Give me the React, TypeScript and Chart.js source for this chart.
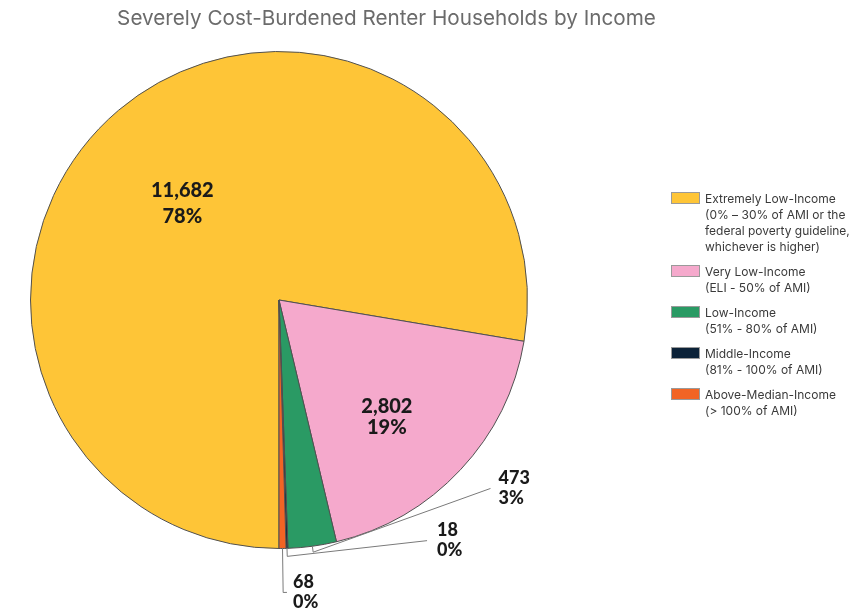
import React, { useEffect, useRef } from "react";
import { Chart, registerables } from "chart.js";

Chart.register(...registerables);

// ---- data ----
const TITLE = "Severely Cost-Burdened Renter Households by Income";
const categories = [
  "Extremely Low-Income",
  "Very Low-Income",
  "Low-Income",
  "Middle-Income",
  "Above-Median-Income",
];
const categoryNotes = [
  ["(0% \u2013 30% of AMI or the", "federal poverty guideline,", "whichever is higher)"],
  ["(ELI - 50% of AMI)"],
  ["(51% - 80% of AMI)"],
  ["(81% - 100% of AMI)"],
  ["(> 100% of AMI)"],
];
const households = [11682, 2802, 473, 18, 68];
const colors = ["#FEC537", "#F5A9CC", "#2A9A64", "#0C2238", "#F26424"];

// ---- label placement (styles/positions, not data) ----
const insidePlacement: Record<number, { shift: number; rf: number; gap: number }> = {
  0: { shift: -4.8, rf: 0.55, gap: 26 },
  1: { shift: 4.2, rf: 0.64, gap: 21.5 },
};
const outsidePlacement: Record<number, { elbow: number; angle: number; rf: number; dx: number }> = {
  2: { elbow: 6, angle: 41.7, rf: 1.14, dx: 8 },
  3: { elbow: 8, angle: 58.4, rf: 1.137, dx: 10 },
  4: { elbow: 44, angle: 88.44, rf: 1.177, dx: 6 },
};

const TEXT_DARK = "#1a1a1a";

const decorPlugin = {
  id: "decor",
  afterDatasetsDraw(chart: any) {
    const ctx: CanvasRenderingContext2D = chart.ctx;
    const meta = chart.getDatasetMeta(0);
    const total = households.reduce((a, b) => a + b, 0);
    ctx.save();
    meta.data.forEach((arc: any, i: number) => {
      const { x, y, startAngle, endAngle, outerRadius } = arc.getProps(
        ["x", "y", "startAngle", "endAngle", "outerRadius"],
        true
      );
      const mid = (startAngle + endAngle) / 2;
      const lines = [
        households[i].toLocaleString("en-US"),
        Math.round((households[i] / total) * 100) + "%",
      ];
      ctx.fillStyle = TEXT_DARK;
      if (insidePlacement[i]) {
        const p = insidePlacement[i];
        const a = mid + (p.shift * Math.PI) / 180;
        const cx = x + Math.cos(a) * outerRadius * p.rf;
        const cy = y + Math.sin(a) * outerRadius * p.rf;
        ctx.font = "900 20px Lato";
        ctx.textAlign = "center";
        ctx.textBaseline = "middle";
        ctx.fillText(lines[0], cx, cy - p.gap / 2);
        ctx.fillText(lines[1], cx, cy + p.gap / 2);
      } else if (outsidePlacement[i]) {
        const p = outsidePlacement[i];
        const ex = x + Math.cos(mid) * outerRadius;
        const ey = y + Math.sin(mid) * outerRadius;
        const bx = x + Math.cos(mid) * (outerRadius + p.elbow);
        const by = y + Math.sin(mid) * (outerRadius + p.elbow);
        const aa = (p.angle * Math.PI) / 180;
        const ax = x + Math.cos(aa) * outerRadius * p.rf;
        const ay = y + Math.sin(aa) * outerRadius * p.rf;
        ctx.strokeStyle = "#7a7a7a";
        ctx.lineWidth = 1;
        ctx.beginPath();
        ctx.moveTo(ex, ey);
        ctx.lineTo(bx, by);
        ctx.lineTo(ax, ay);
        ctx.stroke();
        ctx.font = "900 18px Lato";
        ctx.textAlign = "left";
        ctx.textBaseline = "middle";
        ctx.fillText(lines[0], ax + p.dx, ay - 10);
        ctx.fillText(lines[1], ax + p.dx, ay + 10);
      }
    });

    // title
    ctx.font = "20.7px Inter";
    ctx.fillStyle = "#6b6b6b";
    ctx.textAlign = "center";
    ctx.textBaseline = "alphabetic";
    ctx.fillText(TITLE, 386.5, 25);

    // legend
    let top = 192;
    categories.forEach((name, i) => {
      const textLines = [name, ...categoryNotes[i]];
      ctx.fillStyle = colors[i];
      ctx.fillRect(671, top, 29, 12);
      ctx.strokeStyle = "#9a9a9a";
      ctx.lineWidth = 1;
      ctx.strokeRect(671.5, top + 0.5, 28, 11);
      ctx.fillStyle = "#3a3a3a";
      ctx.font = "12px Inter";
      ctx.textAlign = "left";
      ctx.textBaseline = "alphabetic";
      textLines.forEach((t, k) => {
        ctx.fillText(t, 705, top + 11 + k * 16);
      });
      top += textLines.length * 16 + 9;
    });
    ctx.restore();
  },
};

export default function App() {
  const ref = useRef<HTMLCanvasElement | null>(null);
  useEffect(() => {
    if (!ref.current) return;
    const chart = new Chart(ref.current, {
      type: "pie",
      data: {
        labels: categories,
        datasets: [
          {
            data: households,
            backgroundColor: colors,
            borderColor: "#505050",
            borderWidth: 1,
          },
        ],
      },
      options: {
        responsive: false,
        animation: false,
        devicePixelRatio: 1,
        rotation: 180,
        layout: { padding: { left: 30, top: 51, right: 337, bottom: 62 } },
        plugins: {
          legend: { display: false },
          title: { display: false },
          tooltip: { enabled: false },
        },
      },
      plugins: [decorPlugin],
    });
    return () => chart.destroy();
  }, []);
  return (
    <div style={{ position: "absolute", left: 0, top: 0, width: 865, height: 611, background: "#fff" }}>
      <canvas ref={ref} width={865} height={611} />
    </div>
  );
}
